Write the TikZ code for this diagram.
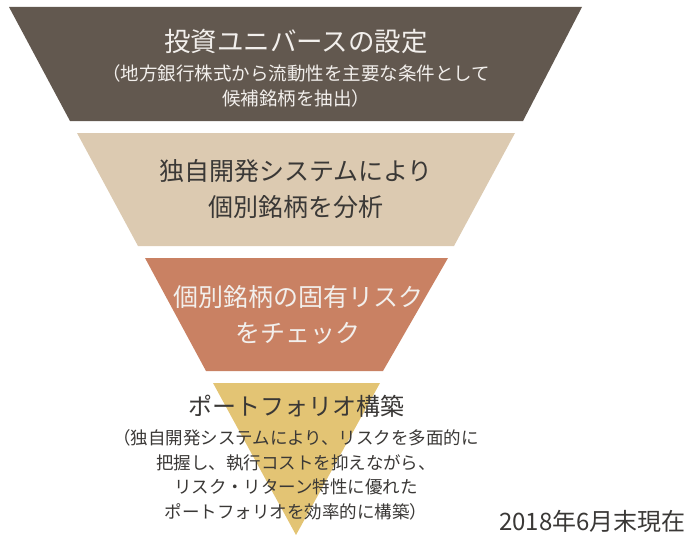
\documentclass[tikz,border=0pt]{standalone}
\usepackage{fontspec}
\newfontfamily\jpfont{Noto Sans CJK JP}
\definecolor{bandone}{HTML}{62584F}
\definecolor{bandtwo}{HTML}{DCCAB1}
\definecolor{bandthree}{HTML}{C98163}
\definecolor{bandfour}{HTML}{E3C474}
\definecolor{lighttext}{HTML}{F2EFEC}
\definecolor{darktext}{HTML}{3A3836}
\tikzset{
  band/.style = {draw = none},
  headline/.style = {align = center, inner sep = 0pt, font = \jpfont\fontsize{25}{36}\selectfont},
  subline/.style = {align = center, inner sep = 0pt, font = \jpfont\fontsize{17.5}{24.5}\selectfont},
  datenote/.style = {anchor = east, inner sep = 0pt, text = darktext, font = \jpfont\fontsize{24}{26}\selectfont}
}
\begin{document}
\begin{tikzpicture}[x = 1pt, y = -1pt]
  \useasboundingbox (0, 0) rectangle (686, 535);

  \fill [band, bandone] (9, 7) -- (582, 7) -- (523, 121) -- (70, 121) -- cycle;
  \fill [band, bandtwo] (77, 133) -- (515, 133) -- (454, 246) -- (138, 246) -- cycle;
  \fill [band, bandthree] (145, 258) -- (448, 258) -- (383, 371) -- (206, 371) -- cycle;
  \fill [band, bandfour] (213, 383) -- (380, 383) -- (296, 535) -- cycle;

  \node [headline, text = lighttext, font = \jpfont\fontsize{26.5}{30}\selectfont] (universe) at (296, 41) {投資ユニバースの設定};
  \node [subline, text = lighttext, font = \jpfont\fontsize{18.5}{25}\selectfont] (universenote) at (296, 86)
    {（地方銀行株式から流動性を主要な条件として\\候補銘柄を抽出）};

  \node [headline, text = darktext] (analysis) at (296, 189)
    {独自開発システムにより\\個別銘柄を分析};

  \node [headline, text = lighttext] (riskcheck) at (298, 315)
    {個別銘柄の固有リスク\\をチェック};

  \node [headline, text = darktext, font = \jpfont\fontsize{24}{30}\selectfont] (portfolio) at (296, 406)
    {ポートフォリオ構築};
  \node [subline, text = darktext] (portfolionote) at (296, 475)
    {（独自開発システムにより、リスクを多面的に\\把握し、執行コストを抑えながら、\\リスク・リターン特性に優れた\\ポートフォリオを効率的に構築）};

  \node [datenote] (asof) at (686, 521) {2018年6月末現在};
\end{tikzpicture}
\end{document}
